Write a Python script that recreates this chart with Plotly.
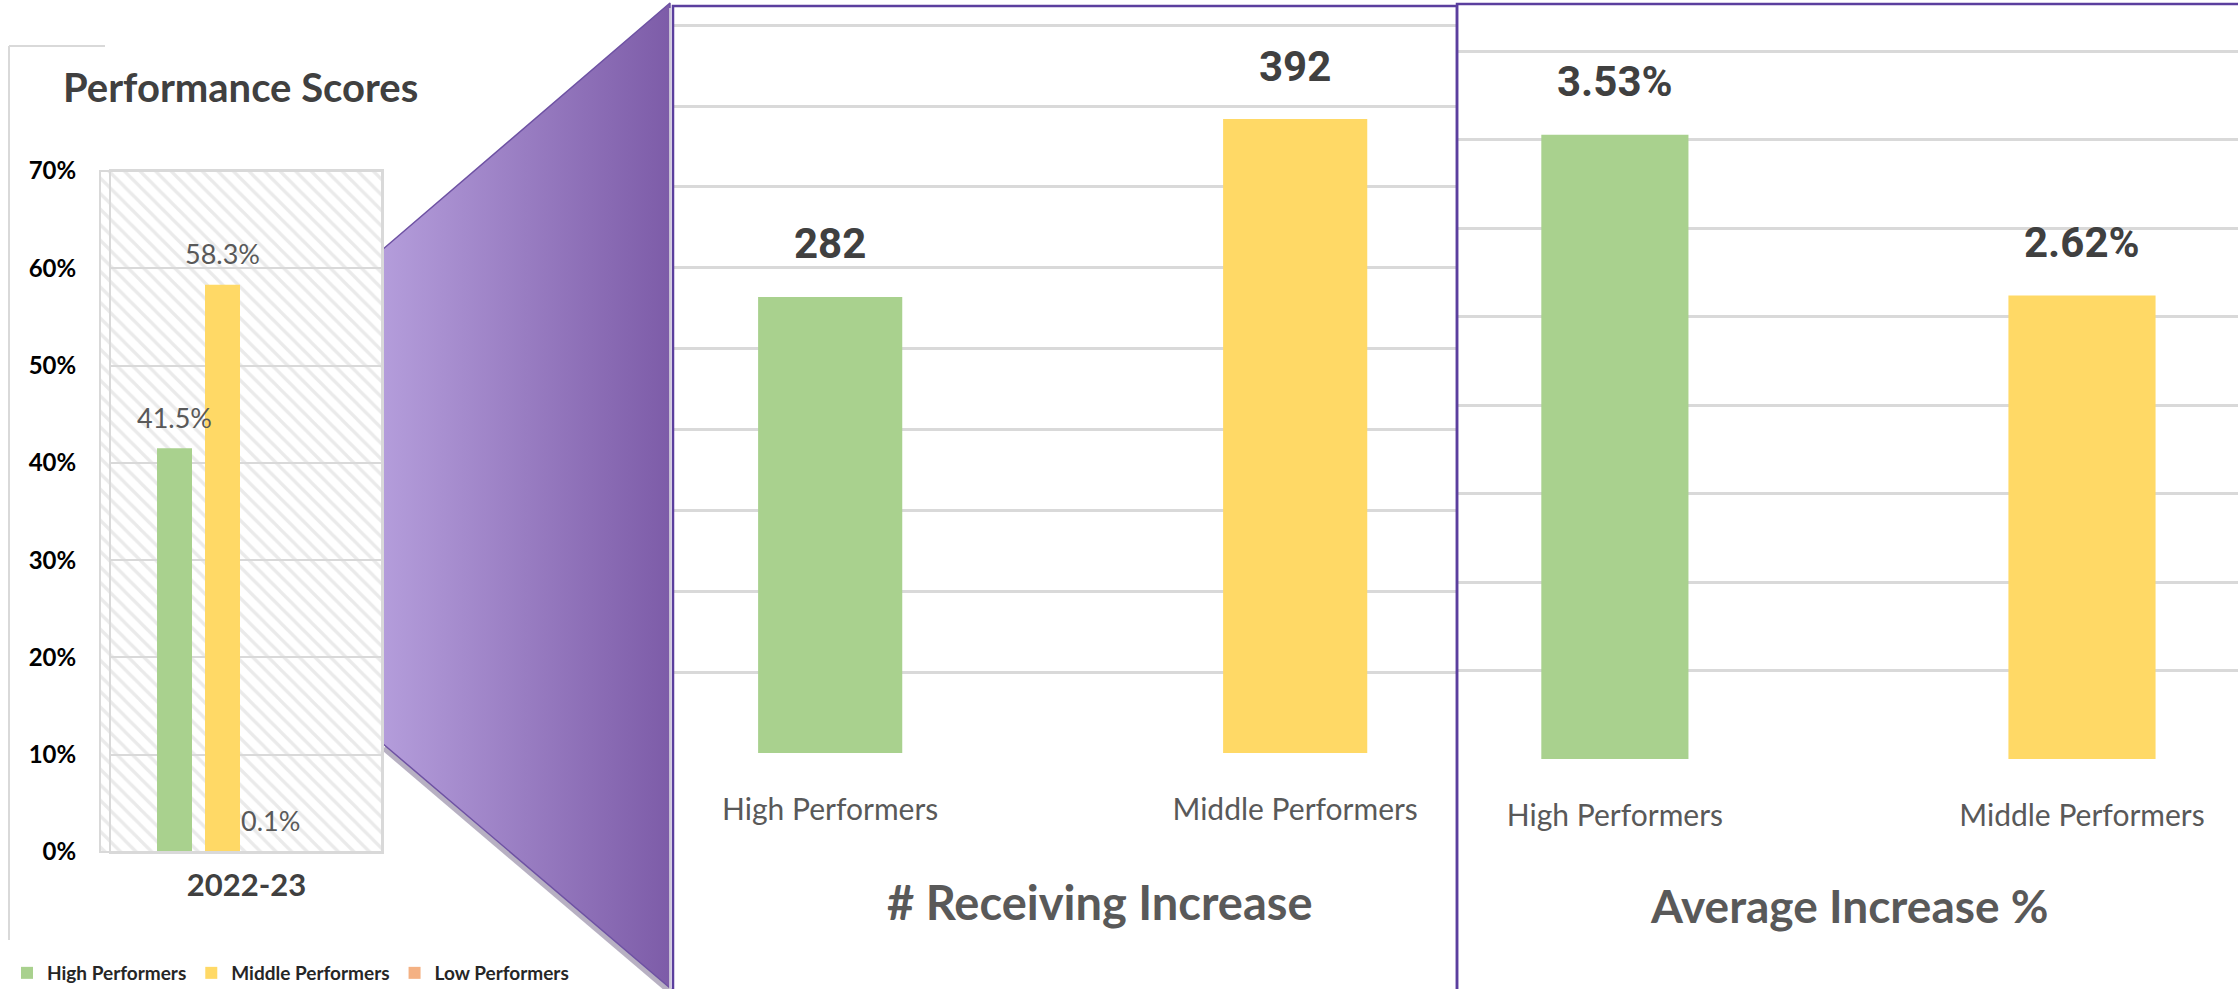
import plotly.graph_objects as go

W, H = 2238, 989

# ---- data -------------------------------------------------------------
score_period = ["2022-23"]
score_series = ["High Performers", "Middle Performers", "Low Performers"]
score_values = [41.5, 58.3, 0.1]          # % of staff in each band
score_ticks = [0, 10, 20, 30, 40, 50, 60, 70]
score_tick_labels = ["0%", "10%", "20%", "30%", "40%", "50%", "60%", "70%"]

groups = ["High Performers", "Middle Performers"]
receiving_counts = [282, 392]             # number receiving an increase
avg_increase_pct = [3.53, 2.62]           # average increase, %

# ---- style ------------------------------------------------------------
GREEN, YELLOW, ORANGE = "#A9D18E", "#FFD966", "#F4B183"
series_colors = [GREEN, YELLOW, ORANGE]
GRID = "#d9d9d9"
PURPLE_LINE = "#5B3F9E"
CAL = "Lato, Carlito, Calibri, sans-serif"
LABEL = "Roboto, Liberation Sans, Arial, sans-serif"


def fx(p):
    return p / W


def fy(p):
    return 1 - p / H


fig = go.Figure()

# ---- decoration layer (pixel space) -----------------------------------
fig.add_trace(go.Scatter(
    x=[100, 382, 382, 100], y=[171, 171, 852, 852], fill="toself", mode="none",
    fillpattern=dict(shape="\\", fgcolor="#d6d6d6", bgcolor="white", size=11, solidity=0.3),
    showlegend=False, hoverinfo="skip", xaxis="x", yaxis="y"))
fig.add_trace(go.Scatter(
    x=[384, 672], y=[748, 993], mode="lines",
    line=dict(color="rgba(50,30,80,0.35)", width=6),
    showlegend=False, hoverinfo="skip", xaxis="x", yaxis="y"))
fig.add_trace(go.Scatter(
    x=[382, 670, 670, 382], y=[250, 3, 988, 743], fill="toself", mode="lines",
    fillgradient=dict(type="horizontal", colorscale=[[0, "#B49DDB"], [1, "#7D5CA8"]]),
    line=dict(color="#6E52A3", width=1.5),
    showlegend=False, hoverinfo="skip", xaxis="x", yaxis="y"))

# ---- left: performance scores ----------------------------------------
slot = 48 / 271
bw = 35 / 271
for i, (name, val, col) in enumerate(zip(score_series, score_values, series_colors)):
    centre = (i - 1.5) * slot
    fig.add_trace(go.Bar(
        x=score_period, y=[val], name=name, marker=dict(color=col, line=dict(width=0)),
        width=[bw], offset=[centre - bw / 2], xaxis="x2", yaxis="y2",
        hoverinfo="skip"))
    fig.add_annotation(
        x=centre, y=val, xref="x2", yref="y2", text=f"{val}%", showarrow=False,
        yshift=31, font=dict(family=CAL, size=27, color="#595959"))

# ---- middle: number receiving increase --------------------------------
fig.add_trace(go.Bar(
    x=groups, y=receiving_counts, marker=dict(color=[GREEN, YELLOW], line=dict(width=0)),
    width=0.31, showlegend=False, xaxis="x3", yaxis="y3", hoverinfo="skip"))
for g, v in zip(groups, receiving_counts):
    fig.add_annotation(
        x=g, y=v, xref="x3", yref="y3", text=str(v), showarrow=False, yshift=53,
        font=dict(family=LABEL, size=42, color="#404040", weight="bold"))

# ---- right: average increase % ----------------------------------------
fig.add_trace(go.Bar(
    x=groups, y=avg_increase_pct, marker=dict(color=[GREEN, YELLOW], line=dict(width=0)),
    width=0.315, showlegend=False, xaxis="x4", yaxis="y4", hoverinfo="skip"))
for g, v in zip(groups, avg_increase_pct):
    fig.add_annotation(
        x=g, y=v, xref="x4", yref="y4", text=f"{v:.2f}%", showarrow=False, yshift=53,
        font=dict(family=LABEL, size=42, color="#404040", weight="bold"))

# ---- titles -----------------------------------------------------------
fig.add_annotation(x=fx(61), y=fy(87), xref="paper", yref="paper", xanchor="left",
                   yanchor="middle", text="Performance Scores", showarrow=False,
                   font=dict(family=CAL, size=40, color="#404040", weight="bold"))
fig.add_annotation(x=fx(1100), y=fy(902), xref="paper", yref="paper",
                   xanchor="center", yanchor="middle",
                   text="# Receiving Increase", showarrow=False,
                   font=dict(family=CAL, size=47, color="#595959", weight="bold"))
fig.add_annotation(x=fx(1849), y=fy(905), xref="paper", yref="paper",
                   xanchor="center", yanchor="middle",
                   text="Average Increase %", showarrow=False,
                   font=dict(family=CAL, size=46, color="#595959", weight="bold"))

# ---- frames -----------------------------------------------------------
shapes = [
    dict(type="line", xref="paper", yref="paper", x0=fx(9), x1=fx(9), y0=fy(46), y1=fy(940),
         line=dict(color=GRID, width=2)),
    dict(type="line", xref="paper", yref="paper", x0=fx(9), x1=fx(105), y0=fy(46), y1=fy(46),
         line=dict(color=GRID, width=2)),
    dict(type="rect", xref="paper", yref="paper", x0=fx(100), x1=fx(382), y0=fy(852), y1=fy(171),
         line=dict(color=GRID, width=2)),
    dict(type="line", xref="paper", yref="paper", x0=fx(670), x1=fx(670), y0=fy(1000), y1=fy(8),
         line=dict(color="#e4e4e4", width=1.5)),
    dict(type="rect", xref="paper", yref="paper", x0=fx(673), x1=fx(1457), y0=fy(1000), y1=fy(6),
         line=dict(color=PURPLE_LINE, width=2.5)),
    dict(type="rect", xref="paper", yref="paper", x0=fx(1457), x1=fx(2260), y0=fy(1000), y1=fy(4),
         line=dict(color=PURPLE_LINE, width=2.5)),
]

hidden = dict(visible=False, fixedrange=True)
fig.update_layout(
    width=W, height=H, margin=dict(l=0, r=0, t=0, b=0, autoexpand=False),
    paper_bgcolor="white", plot_bgcolor="rgba(0,0,0,0)",
    barmode="overlay", shapes=shapes,
    xaxis=dict(domain=[0, 1], range=[0, W], **hidden),
    yaxis=dict(domain=[0, 1], range=[H, 0], **hidden),
    xaxis2=dict(domain=[fx(111), fx(382)], anchor="y2", type="category", range=[-0.5, 0.5],
                tickfont=dict(family=CAL, size=31, color="#404040", weight="bold"),
                ticks="outside", ticklen=5, tickcolor="rgba(0,0,0,0)",
                showline=True, linecolor=GRID, linewidth=2, mirror=True, showgrid=False),
    yaxis2=dict(domain=[fy(852), fy(171)], anchor="x2", range=[0, 70],
                tickmode="array", tickvals=score_ticks, ticktext=score_tick_labels,
                tickfont=dict(family=CAL, size=24, color="black", weight="bold"),
                ticks="outside", ticklen=28, tickcolor="rgba(0,0,0,0)",
                showline=True, linecolor=GRID, linewidth=2, mirror=True,
                gridcolor=GRID, gridwidth=2, zeroline=False),
    xaxis3=dict(domain=[fx(673), fx(1457)], anchor="y3", type="category", range=[-0.338, 1.348],
                tickfont=dict(family=CAL, size=30, color="#595959"),
                ticks="outside", ticklen=30, tickcolor="rgba(0,0,0,0)", showgrid=False, showline=False),
    yaxis3=dict(domain=[fy(753), fy(22)], anchor="x3", range=[0, 452], dtick=50,
                showticklabels=False, gridcolor=GRID, gridwidth=2.5, zeroline=False),
    xaxis4=dict(domain=[fx(1457), 1], anchor="y4", type="category", range=[-0.338, 1.334],
                tickfont=dict(family=CAL, size=30, color="#595959"),
                ticks="outside", ticklen=30, tickcolor="rgba(0,0,0,0)", showgrid=False, showline=False),
    yaxis4=dict(domain=[fy(759), fy(48)], anchor="x4", range=[0, 4.02], dtick=0.5,
                showticklabels=False, gridcolor=GRID, gridwidth=2.5, zeroline=False),
    legend=dict(orientation="h", x=fx(7), y=fy(973), xanchor="left", yanchor="middle",
                font=dict(family=CAL, size=19, color="#262626", weight="bold"),
                bgcolor="rgba(0,0,0,0)", itemwidth=30, tracegroupgap=0),
    showlegend=True,
)

fig.write_html("out.html")
